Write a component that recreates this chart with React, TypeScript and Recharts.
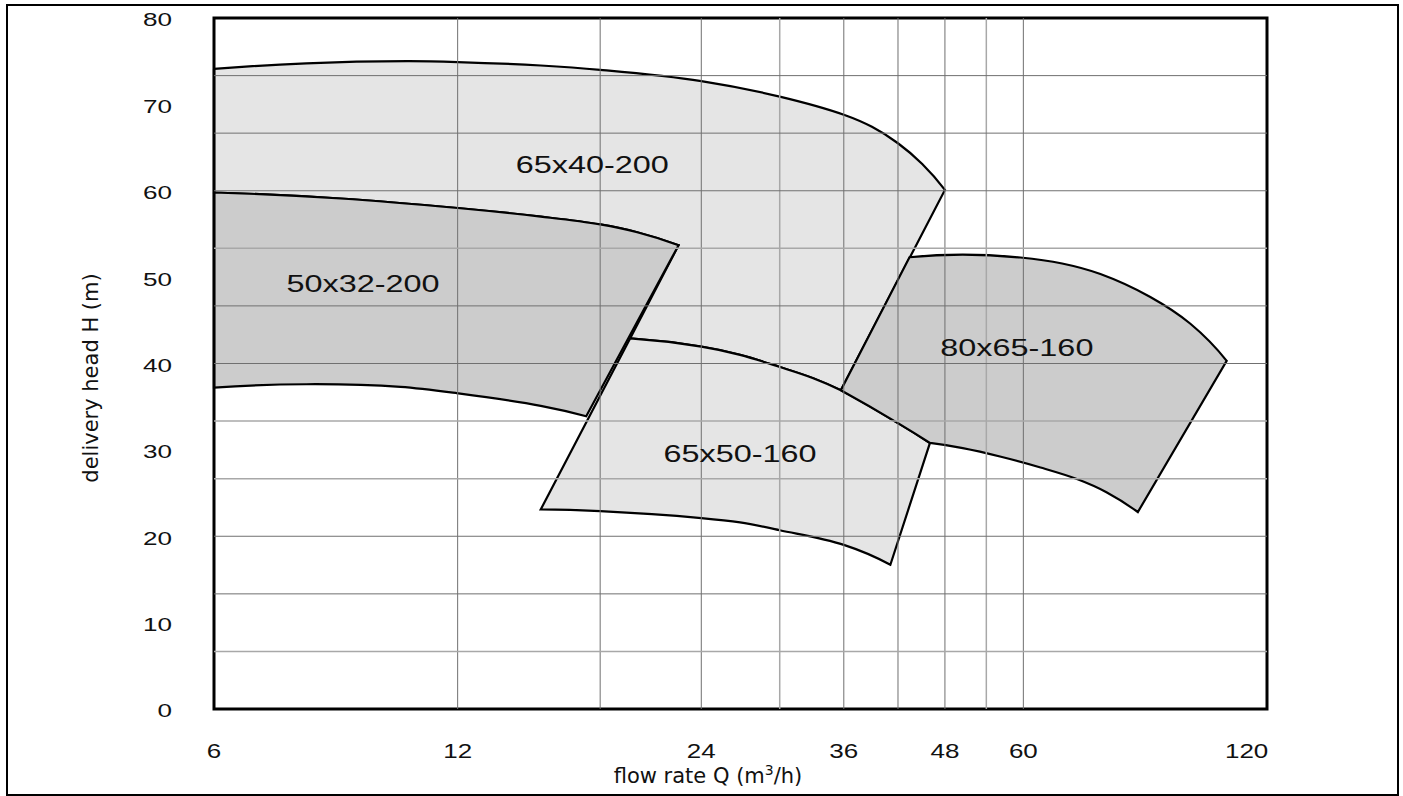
import {
  ComposedChart,
  Area,
  XAxis,
  YAxis,
  ReferenceLine,
  ReferenceArea,
  ReferenceDot,
} from "recharts";

// flow rate Q (m3/h) / delivery head H (m) outlines, each traced round and closed on its first point
const pump6540 = [
  { q: 6, h: 74.1 },
  { q: 7.8, h: 74.75 },
  { q: 10.4, h: 75.0 },
  { q: 12, h: 74.9 },
  { q: 15.2, h: 74.5 },
  { q: 18, h: 74.0 },
  { q: 24, h: 72.7 },
  { q: 30, h: 70.9 },
  { q: 36, h: 68.8 },
  { q: 39, h: 67.4 },
  { q: 42, h: 65.5 },
  { q: 45, h: 63.1 },
  { q: 48, h: 60.1 },
  { q: 35.7, h: 36.9 },
  { q: 33, h: 38.3 },
  { q: 30, h: 39.6 },
  { q: 26.8, h: 41.0 },
  { q: 24, h: 41.95 },
  { q: 19.6, h: 42.9 },
  { q: 22.5, h: 53.7 },
  { q: 20, h: 55.2 },
  { q: 18, h: 56.1 },
  { q: 15.2, h: 57.0 },
  { q: 12, h: 58.0 },
  { q: 8.6, h: 59.1 },
  { q: 6, h: 59.8 },
  { q: 6, h: 74.1 },
];

const pump5032 = [
  { q: 6, h: 59.8 },
  { q: 8.6, h: 59.1 },
  { q: 12, h: 58.0 },
  { q: 15.2, h: 57.0 },
  { q: 18, h: 56.1 },
  { q: 20, h: 55.2 },
  { q: 22.5, h: 53.7 },
  { q: 17.3, h: 33.9 },
  { q: 15.2, h: 35.1 },
  { q: 12, h: 36.55 },
  { q: 10.2, h: 37.3 },
  { q: 7.8, h: 37.6 },
  { q: 6, h: 37.2 },
  { q: 6, h: 59.8 },
];

const pump6550 = [
  { q: 19.6, h: 42.9 },
  { q: 24, h: 41.95 },
  { q: 26.8, h: 41.0 },
  { q: 30, h: 39.6 },
  { q: 33, h: 38.3 },
  { q: 35.7, h: 36.9 },
  { q: 42, h: 33.1 },
  { q: 46, h: 30.8 },
  { q: 41.1, h: 16.7 },
  { q: 36, h: 19.0 },
  { q: 30, h: 20.7 },
  { q: 26.8, h: 21.6 },
  { q: 24, h: 22.1 },
  { q: 18, h: 22.9 },
  { q: 15.2, h: 23.1 },
  { q: 19.6, h: 42.9 },
];

const pump8065 = [
  { q: 35.7, h: 36.9 },
  { q: 43.4, h: 52.3 },
  { q: 50.5, h: 52.6 },
  { q: 59.5, h: 52.27 },
  { q: 67, h: 51.58 },
  { q: 74.7, h: 50.36 },
  { q: 86.1, h: 47.7 },
  { q: 96.5, h: 44.6 },
  { q: 107, h: 40.3 },
  { q: 83.1, h: 22.8 },
  { q: 76, h: 25.1 },
  { q: 70, h: 26.6 },
  { q: 63, h: 27.96 },
  { q: 56.3, h: 29.2 },
  { q: 50.5, h: 30.2 },
  { q: 46, h: 30.8 },
  { q: 42, h: 33.1 },
  { q: 35.7, h: 36.9 },
];

const pumpLabels = [
  { name: "65x40-200", q: 17.6, h: 63.0 },
  { name: "50x32-200", q: 9.17, h: 49.3 },
  { name: "65x50-160", q: 26.8, h: 29.6 },
  { name: "80x65-160", q: 58.9, h: 41.9 },
];

const xTicks = [6, 12, 24, 36, 48, 60, 120];
const yTicks = [0, 10, 20, 30, 40, 50, 60, 70, 80];

const gridQ = [12, 18, 24, 36, 42, 48, 60];
const gridQLight = [30, 54];
const gridH = [13.33, 20, 40, 46.67, 60, 66.67, 73.33];
const gridHLight = [6.67, 26.67, 33.33, 53.33];

const LIGHT = "#e5e5e5";
const DARK = "#cccccc";

// d3-style curve: smooth through gentle bends, keeps sharp corners of the outlines
function drawRun(ctx: any, p: number[][], state: any) {
  const n = p.length;
  if (!n) return;
  if (state) ctx.lineTo(p[0][0], p[0][1]);
  else ctx.moveTo(p[0][0], p[0][1]);
  if (n === 1) return;

  const seg = [];
  for (let i = 0; i < n - 1; i++) {
    const dx = p[i + 1][0] - p[i][0];
    const dy = p[i + 1][1] - p[i][1];
    const len = Math.hypot(dx, dy);
    seg.push({ ux: len ? dx / len : 0, uy: len ? dy / len : 0, len });
  }

  const limit = Math.cos((22 * Math.PI) / 180);
  const tan: (number[] | null)[] = [];
  for (let i = 0; i < n; i++) {
    if (i === 0 || i === n - 1) {
      tan.push(null);
      continue;
    }
    const a = seg[i - 1];
    const b = seg[i];
    const cos = a.ux * b.ux + a.uy * b.uy;
    if (!a.len || !b.len || cos < limit) {
      tan.push(null);
      continue;
    }
    const tx = a.ux + b.ux;
    const ty = a.uy + b.uy;
    const l = Math.hypot(tx, ty);
    tan.push([tx / l, ty / l]);
  }

  const reflect = (t: number[], u: number[]) => {
    const d = 2 * (t[0] * u[0] + t[1] * u[1]);
    return [d * u[0] - t[0], d * u[1] - t[1]];
  };

  for (let i = 0; i < n - 1; i++) {
    const s = seg[i];
    let t0 = tan[i];
    let t1 = tan[i + 1];
    if (!t0 && !t1) {
      ctx.lineTo(p[i + 1][0], p[i + 1][1]);
      continue;
    }
    const u = [s.ux, s.uy];
    if (!t0) t0 = reflect(t1 as number[], u);
    if (!t1) t1 = reflect(t0 as number[], u);
    const k = s.len / 3;
    ctx.bezierCurveTo(
      p[i][0] + t0[0] * k,
      p[i][1] + t0[1] * k,
      p[i + 1][0] - t1[0] * k,
      p[i + 1][1] - t1[1] * k,
      p[i + 1][0],
      p[i + 1][1]
    );
  }
}

function outlineCurve(context: any) {
  let pts: number[][] = [];
  let state: any = undefined;
  return {
    areaStart() {
      state = 0;
    },
    areaEnd() {
      state = NaN;
    },
    lineStart() {
      pts = [];
    },
    lineEnd() {
      drawRun(context, pts, state);
      if (state || (state !== 0 && pts.length === 1)) context.closePath();
      state = 1 - state;
    },
    point(x: number, y: number) {
      pts.push([+x, +y]);
    },
  };
}

const XTick = (props: any) => {
  const { x, y, payload } = props;
  const last = payload.value === 120;
  return (
    <g transform={`translate(${x},${y + 42})`}>
      <text
        transform="scale(1.3,1)"
        textAnchor={last ? "end" : "middle"}
        x={last ? 1 : 0}
        dy="0.36em"
        fontFamily="Liberation Sans"
        fontSize={20}
        fill="#111"
      >
        {payload.value}
      </text>
    </g>
  );
};

const YTick = (props: any) => {
  const { x, y, payload } = props;
  return (
    <g transform={`translate(${x - 42},${y + 2})`}>
      <text
        transform="scale(1.45,1)"
        textAnchor="end"
        dy="0.36em"
        fontFamily="Liberation Sans"
        fontSize={18}
        fill="#111"
      >
        {payload.value}
      </text>
    </g>
  );
};

const PumpName = (name: string) => (p: any) => (
  <g transform={`translate(${p.cx},${p.cy})`}>
    <text
      transform="scale(1.35,1)"
      textAnchor="middle"
      dy="0.36em"
      fontFamily="Liberation Sans"
      fontSize={24}
      fill="#111"
    >
      {name}
    </text>
  </g>
);

export default function App() {
  const series = [
    { key: "6540", data: pump6540, fill: LIGHT },
    { key: "5032", data: pump5032, fill: DARK },
    { key: "6550", data: pump6550, fill: LIGHT },
    { key: "8065", data: pump8065, fill: DARK },
  ];

  return (
    <div style={{ position: "absolute", left: 0, top: 0, width: 1403, height: 796, background: "#fff" }}>
      <ComposedChart
        width={1403}
        height={796}
        margin={{ top: 18, right: 136, bottom: 0, left: 0 }}
      >
        <XAxis
          dataKey="q"
          type="number"
          scale="log"
          domain={[6, 120]}
          ticks={xTicks}
          tick={<XTick />}
          tickSize={0}
          tickMargin={0}
          axisLine={false}
          tickLine={false}
          height={87}
          label={{
            content: () => (
              <text
                x={708}
                y={776}
                dy="0.35em"
                textAnchor="middle"
                fontFamily="DejaVu Sans"
                fontSize={21}
                fill="#111"
              >
                flow rate Q (m
                <tspan dy={-8} fontSize={14}>3</tspan>
                <tspan dy={8}>/h)</tspan>
              </text>
            ),
          }}
        />
        <YAxis
          type="number"
          domain={[0, 80]}
          ticks={yTicks}
          tick={<YTick />}
          tickSize={0}
          tickMargin={0}
          axisLine={false}
          tickLine={false}
          width={214}
          label={{
            content: () => (
              <text
                transform="translate(91,378) rotate(-90)"
                dy="0.35em"
                textAnchor="middle"
                fontFamily="DejaVu Sans"
                fontSize={21}
                fill="#111"
              >
                delivery head H (m)
              </text>
            ),
          }}
        />

        {series.map((s) => (
          <Area
            key={s.key}
            data={s.data}
            dataKey="h"
            type={outlineCurve as any}
            fill={s.fill}
            fillOpacity={1}
            stroke="#000"
            strokeWidth={2.2}
            strokeLinejoin="miter"
            dot={false}
            activeDot={false}
            isAnimationActive={false}
          />
        ))}

        {gridQ.map((q) => (
          <ReferenceLine key={`q${q}`} x={q} stroke="#707070" strokeWidth={1} />
        ))}
        {gridQLight.map((q) => (
          <ReferenceLine key={`ql${q}`} x={q} stroke="#a8a8a8" strokeWidth={1.5} />
        ))}
        {gridH.map((h) => (
          <ReferenceLine key={`h${h}`} y={h} stroke="#707070" strokeWidth={1} />
        ))}
        {gridHLight.map((h) => (
          <ReferenceLine key={`hl${h}`} y={h} stroke="#a8a8a8" strokeWidth={1.5} />
        ))}

        {pumpLabels.map((l) => (
          <ReferenceDot
            key={l.name}
            x={l.q}
            y={l.h}
            r={0}
            ifOverflow="visible"
            shape={PumpName(l.name)}
          />
        ))}

        <ReferenceArea
          x1={6}
          x2={120}
          y1={0}
          y2={80}
          fill="none"
          stroke="#000"
          strokeWidth={3}
          ifOverflow="visible"
        />
      </ComposedChart>
      <div
        style={{
          position: "absolute",
          left: 6,
          top: 4,
          width: 1393,
          height: 792,
          border: "2px solid #000",
          boxSizing: "border-box",
          pointerEvents: "none",
        }}
      />
    </div>
  );
}
